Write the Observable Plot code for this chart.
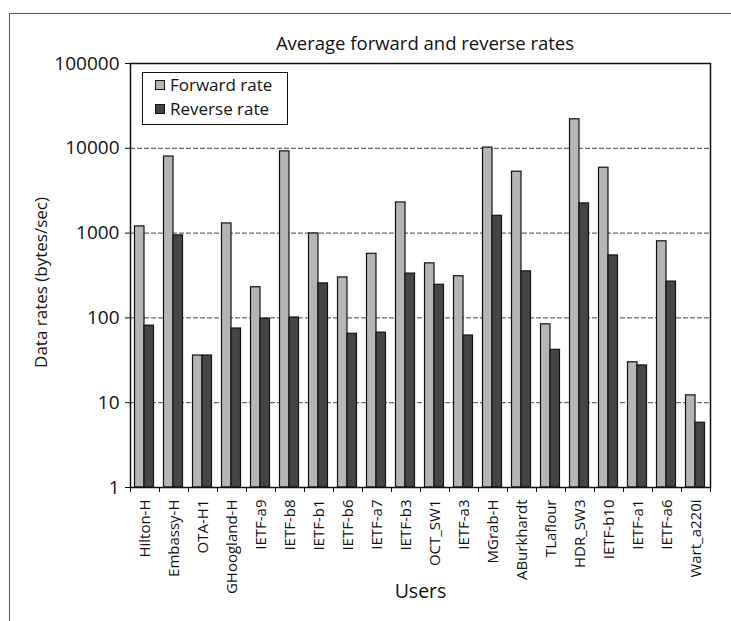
<!DOCTYPE html>
<html>
<head>
<meta charset="utf-8">
<script src="https://cdn.jsdelivr.net/npm/d3@7"></script>
<script src="https://cdn.jsdelivr.net/npm/@observablehq/plot@0.6"></script>
<style>
  html, body { margin: 0; padding: 0; background: #fff; }
  #wrap { position: relative; width: 731px; height: 621px; overflow: hidden; font-family: "Open Sans", sans-serif; }
  #border { position: absolute; left: 9px; top: 13px; width: 800px; height: 700px; border-left: 1.5px solid #555; border-top: 1.5px solid #555; }
  #title { position: absolute; left: 0; top: 32px; width: 850px; text-align: center; font-size: 18.5px; line-height: 22px; color: #111; }
  #legend { position: absolute; left: 142px; top: 72px; width: 146px; height: 53px; border: 1px solid #111; background: #fff; font-size: 17px; color: #111; padding: 0; box-sizing: border-box; }
  .li { position: absolute; left: 12px; display: flex; align-items: center; white-space: nowrap; line-height: 18px; height: 18px; }
  .sw { width: 8px; height: 8px; border: 1px solid #111; margin-right: 5px; }
  svg { position: absolute; left: 0; top: 0; }
</style>
</head>
<body>
<div id="wrap">
  <div id="border"></div>
  <div id="chart"></div>
  <div id="title">Average forward and reverse rates</div>
  <div id="legend">
    <div class="li" style="top:3px"><span class="sw" style="background:#b5b5b5"></span>Forward rate</div>
    <div class="li" style="top:27px"><span class="sw" style="background:#454545"></span>Reverse rate</div>
  </div>
</div>
<script>
const users = ["Hilton-H","Embassy-H","OTA-H1","GHoogland-H","IETF-a9","IETF-b8","IETF-b1","IETF-b6","IETF-a7","IETF-b3","OCT_SW1","IETF-a3","MGrab-H","ABurkhardt","TLaflour","HDR_SW3","IETF-b10","IETF-a1","IETF-a6","Wart_a220i"];
const forwardRate = [1200, 8000, 36, 1300, 230, 9200, 990, 300, 570, 2300, 440, 310, 10200, 5300, 84, 22000, 5900, 30, 800, 12.2];
const reverseRate = [81, 940, 36, 75, 98, 101, 255, 65, 67, 333, 246, 62, 1600, 354, 42, 2240, 545, 27.5, 268, 5.8];
const yTicks = [1, 10, 100, 1000, 10000, 100000];

const data = users.map((u, i) => ({user: u, fwd: forwardRate[i], rev: reverseRate[i]}));

const W = 731, H = 621;
const mL = 130, mR = 21, mT = 63, mB = 134;
const bw = (W - mL - mR) / users.length;
const innerH = H - mT - mB;

const chart = Plot.plot({
  width: W,
  height: H,
  marginLeft: mL,
  marginRight: mR,
  marginTop: mT,
  marginBottom: mB,
  style: {fontFamily: "'Open Sans', sans-serif", color: "#111", background: "transparent", overflow: "visible"},
  x: {type: "band", domain: users, padding: 0, label: null},
  y: {type: "log", domain: [1, 100000], label: null},
  marks: [
    Plot.ruleY([10, 100, 1000, 10000], {stroke: "#444", strokeDasharray: "5,2", strokeWidth: 1}),
    Plot.barY(data, {x: "user", y1: 1, y2: "fwd", fill: "#b5b5b5", stroke: "#111", strokeWidth: 1.2, insetLeft: 4.5, insetRight: bw - 14}),
    Plot.barY(data, {x: "user", y1: 1, y2: "rev", fill: "#454545", stroke: "#111", strokeWidth: 1.2, insetLeft: 14, insetRight: bw - 23.5}),
    Plot.frame({stroke: "#111", strokeWidth: 1.5}),
    Plot.axisY({ticks: yTicks, tickFormat: d => String(d), tickSize: 5, tickPadding: 6, fontSize: 19, label: null}),
    Plot.ruleX(users, {x: d => d, dx: -bw / 2, insetTop: innerH, insetBottom: -5, stroke: "#111"}),
    Plot.ruleX([users[users.length - 1]], {x: d => d, dx: bw / 2, insetTop: innerH, insetBottom: -5, stroke: "#111"}),
    Plot.axisX({tickSize: 0, tickRotate: -90, tickPadding: 12, fontSize: 15, label: null}),
    Plot.text(["Users"], {frameAnchor: "bottom", dy: 110, fontSize: 19.5, fill: "#111"}),
    Plot.text(["Data rates (bytes/sec)"], {frameAnchor: "left", dx: -89, dy: 7, rotate: -90, textAnchor: "middle", fontSize: 17, fill: "#111"})
  ]
});
document.getElementById("chart").appendChild(chart);
</script>
</body>
</html>
